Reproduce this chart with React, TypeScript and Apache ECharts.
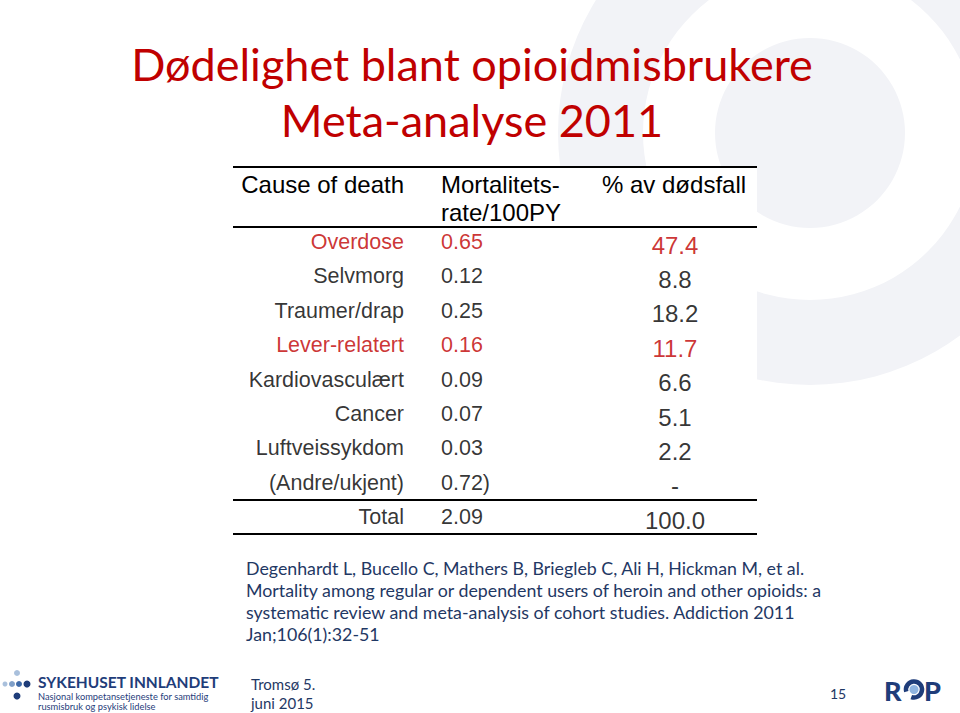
import React, { useEffect, useRef } from "react";
import * as echarts from "echarts";

// ---- data ----
const titleLines = ["Dødelighet blant opioidmisbrukere", "Meta-analyse 2011"];
const headers = ["Cause of death", "Mortalitets-\nrate/100PY", "% av dødsfall"];
const causes = [
  "Overdose",
  "Selvmorg",
  "Traumer/drap",
  "Lever-relatert",
  "Kardiovasculært",
  "Cancer",
  "Luftveissykdom",
  "(Andre/ukjent)",
  "Total",
];
const rates = ["0.65", "0.12", "0.25", "0.16", "0.09", "0.07", "0.03", "0.72)", "2.09"];
const shares = ["47.4", "8.8", "18.2", "11.7", "6.6", "5.1", "2.2", "-", "100.0"];
const highlighted = ["Overdose", "Lever-relatert"];
const citation = [
  "Degenhardt L, Bucello C, Mathers B, Briegleb C, Ali H, Hickman M, et al.",
  "Mortality among regular or dependent users of heroin and other opioids: a",
  "systematic review and meta-analysis of cohort studies. Addiction 2011",
  "Jan;106(1):32-51",
];
const footerDate = ["Tromsø 5.", "juni 2015"];
const pageNumber = "15";
const hospitalName = "SYKEHUSET INNLANDET";
const hospitalSub = ["Nasjonal kompetansetjeneste for samtidig", "rusmisbruk og psykisk lidelse"];

// ---- styles ----
const RED = "#c00000";
const NAVY = "#1f3864";
const LOGO = "#1f3d7a";
const ARIAL = "'Liberation Sans', Arial, sans-serif";
const CAL = "Lato, 'Open Sans', sans-serif";
const COL1_RIGHT = 404;
const COL2_LEFT = 441;
const COL3_CENTER = 675;

export default function App() {
  const ref = useRef<HTMLDivElement>(null);

  useEffect(() => {
    if (!ref.current) return;
    const chart = echarts.init(ref.current, undefined, { renderer: "svg" });

    const rowColor = (name: string) => (highlighted.includes(name) ? RED : "#000");

    const col1 = causes.map((c, i) => ({
      name: c,
      value: [COL1_RIGHT, i],
      label: { color: rowColor(c) },
    }));
    const col2 = rates.map((r, i) => ({
      name: r,
      value: [COL2_LEFT, i],
      label: { color: rowColor(causes[i]) },
    }));
    const col3 = shares.map((s, i) => ({
      name: s,
      value: [COL3_CENTER, i],
      label: { color: rowColor(causes[i]) },
    }));

    const line = (y: number) => ({
      type: "line",
      z: 3,
      shape: { x1: 233, y1: y, x2: 757, y2: y },
      style: { stroke: "#000", lineWidth: 2 },
    });

    const txt = (
      text: string,
      x: number,
      y: number,
      size: number,
      fill: string,
      family: string,
      align = "left",
      weight = "normal"
    ) => ({
      type: "text",
      z: 4,
      x,
      y,
      style: {
        text,
        fill,
        fontSize: size,
        fontFamily: family,
        fontWeight: weight,
        textAlign: align,
        textVerticalAlign: "middle",
      },
    });

    const deg = Math.PI / 180;

    const graphics: any[] = [
      // background logo shapes
      { type: "ring", z: 0, shape: { cx: 810, cy: 133, r: 252, r0: 167 }, style: { fill: "#f2f3f7" } },
      { type: "circle", z: 0, shape: { cx: 810, cy: 133, r: 95 }, style: { fill: "#f2f3f7" } },
      // table white background
      { type: "rect", z: 1, shape: { x: 233, y: 167, width: 524, height: 368 }, style: { fill: "#fff" } },
      line(167),
      line(227),
      line(500),
      line(534),
      // headers
      txt(headers[0], COL1_RIGHT, 184, 24, "#000", ARIAL, "right"),
      {
        type: "text",
        z: 4,
        x: COL2_LEFT,
        y: 170,
        style: {
          text: headers[1],
          fill: "#000",
          fontSize: 24,
          fontFamily: ARIAL,
          textAlign: "left",
          textVerticalAlign: "top",
          lineHeight: 28,
        },
      },
      txt(headers[2], 602, 184, 24, "#000", ARIAL, "left"),
      // title
      txt(titleLines[0], 472, 64, 45, RED, CAL, "center"),
      txt(titleLines[1], 472, 120, 45, RED, CAL, "center"),
      // citation
      ...citation.map((c, i) => txt(c, 246, 568 + i * 22, 17.8, NAVY, CAL, "left")),
      // footer
      txt(footerDate[0], 251, 684, 15, NAVY, CAL, "left"),
      txt(footerDate[1], 251, 703, 15, NAVY, CAL, "left"),
      txt(pageNumber, 838, 693, 14, NAVY, CAL, "center"),
      // hospital logo
      { type: "circle", z: 4, shape: { cx: 17, cy: 673, r: 3 }, style: { fill: "#a9c0dc" } },
      { type: "circle", z: 4, shape: { cx: 5, cy: 684, r: 2.5 }, style: { fill: "#a9c0dc" } },
      { type: "circle", z: 4, shape: { cx: 12, cy: 684, r: 3 }, style: { fill: "#7f9fc8" } },
      { type: "circle", z: 4, shape: { cx: 19, cy: 684, r: 3 }, style: { fill: "#3f6aa8" } },
      { type: "circle", z: 4, shape: { cx: 27, cy: 684, r: 3.5 }, style: { fill: LOGO } },
      { type: "circle", z: 4, shape: { cx: 17, cy: 696, r: 3.5 }, style: { fill: LOGO } },
      txt(hospitalName, 38, 682, 15.5, LOGO, CAL, "left", "bold"),
      txt(hospitalSub[0], 38, 696, 9.3, LOGO, CAL, "left"),
      txt(hospitalSub[1], 38, 706, 9.3, LOGO, CAL, "left"),
      // ROP logo
      txt("R", 884, 690, 27, LOGO, CAL, "left", "900"),
      {
        type: "arc",
        z: 4,
        shape: { cx: 914, cy: 689.5, r: 8, startAngle: 165 * deg, endAngle: 470 * deg, clockwise: true },
        style: { stroke: LOGO, lineWidth: 4.5, fill: "none" },
      },
      { type: "circle", z: 5, shape: { cx: 914, cy: 689.5, r: 4.5 }, style: { fill: "#8fb4e0" } },
      txt("P", 924, 690, 27, LOGO, CAL, "left", "900"),
    ];

    const baseLabel = {
      show: true,
      fontFamily: ARIAL,
      fontSize: 21.5,
      formatter: "{b}",
    };

    chart.setOption({
      animation: false,
      backgroundColor: "#fff",
      grid: { left: 0, width: 960, top: 224.8, height: 309.6, containLabel: false },
      xAxis: { type: "value", min: 0, max: 960, show: false },
      yAxis: { type: "category", data: causes, inverse: true, show: false },
      graphic: { elements: graphics },
      series: [
        {
          type: "scatter",
          z: 10,
          symbolSize: 0,
          data: col1,
          label: { ...baseLabel, position: "left", distance: 0 },
        },
        {
          type: "scatter",
          z: 10,
          symbolSize: 0,
          data: col2,
          label: { ...baseLabel, position: "right", distance: 0 },
        },
        {
          type: "scatter",
          z: 10,
          symbolSize: 0,
          data: col3,
          label: { ...baseLabel, fontSize: 24, position: "inside", offset: [0, 3] },
        },
      ],
    });

    return () => chart.dispose();
  }, []);

  return (
    <div
      ref={ref}
      style={{ position: "absolute", left: 0, top: 0, width: 960, height: 713 }}
    />
  );
}
